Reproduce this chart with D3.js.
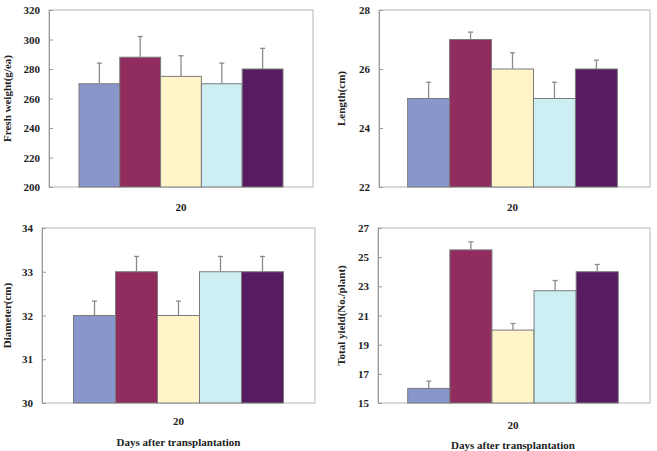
<!DOCTYPE html>
<html><head><meta charset="utf-8">
<script src="https://cdn.jsdelivr.net/npm/d3@7"></script>
<style>
html,body{margin:0;padding:0;background:#fff;}
svg text{font-family:"Liberation Serif","Times New Roman",serif;font-weight:bold;fill:#222;}
</style></head>
<body><svg id="c" width="657" height="451"></svg>
<script>
const category = ["20"];
const treatments = ["T1","T2","T3","T4","T5"];
const colors = ["#8896cc","#912d5e","#fff5c8","#cdeff3","#561b60"];

const freshWeight = [270, 288, 275, 270, 280];
const freshWeightErr = [14, 14, 14, 14, 14];
const lengthVals = [25, 27, 26, 25, 26];
const lengthErr = [0.55, 0.25, 0.55, 0.55, 0.3];
const diameter = [32, 33, 32, 33, 33];
const diameterErr = [0.33, 0.35, 0.33, 0.35, 0.35];
const totalYield = [16, 25.5, 20, 22.7, 24];
const totalYieldErr = [0.5, 0.55, 0.45, 0.7, 0.5];

const ticks1 = [200,220,240,260,280,300,320];
const ticks2 = [22,24,26,28];
const ticks3 = [30,31,32,33,34];
const ticks4 = [15,17,19,21,23,25,27];

const xTitle = "Days after transplantation";

const svg = d3.select("#c");

function panel(o){
  const g = svg.append("g");
  const y = d3.scaleLinear().domain([o.ticks[0], o.ticks[o.ticks.length-1]]).range([o.bottom, o.top]);
  const x0 = d3.scaleBand().domain(category).range([o.left, o.right]).paddingInner(0).paddingOuter(o.pad);
  const x1 = d3.scaleBand().domain(treatments).range([x0(category[0]) + o.shift, x0(category[0]) + x0.bandwidth() + o.shift]);
  g.append("rect").attr("x", o.left).attr("y", o.top).attr("width", o.right-o.left).attr("height", o.bottom-o.top)
    .attr("fill","none").attr("stroke","#b5b5b5").attr("stroke-width",1);
  const ya = d3.axisLeft(y).tickValues(o.ticks).tickSize(-4).tickPadding(9).tickFormat(d3.format("d"));
  const ag = g.append("g").attr("transform",`translate(${o.left},0)`).call(ya);
  ag.select(".domain").attr("stroke","#9a9a9a");
  ag.selectAll(".tick line").attr("stroke","#9a9a9a");
  ag.selectAll("text").attr("font-size", 11).style("font-weight","bold").attr("fill","#333").attr("font-family",null);
  treatments.forEach((t,i)=>{
    const v = o.values[i], e = o.errs[i];
    const bx = x1(t), bw = x1.bandwidth();
    g.append("rect").attr("x",bx).attr("y",y(v)).attr("width",bw).attr("height",y(o.ticks[0])-y(v))
      .attr("fill",colors[i]).attr("stroke","#7a7a7a").attr("stroke-width",1);
    const cx = bx + bw/2;
    g.append("line").attr("x1",cx).attr("x2",cx).attr("y1",y(v)).attr("y2",y(v+e))
      .attr("stroke","#8a8a8a").attr("stroke-width",1.3);
    g.append("line").attr("x1",cx-2.5).attr("x2",cx+2.5).attr("y1",y(v+e)).attr("y2",y(v+e))
      .attr("stroke","#8a8a8a").attr("stroke-width",1.3);
  });
  const cxl = x0(category[0]) + x0.bandwidth()/2 + o.shift;
  g.append("text").attr("x", cxl).attr("y", o.catY)
    .attr("text-anchor","middle").attr("font-size",11).text(category[0]);
  if (o.xTitleY) {
    g.append("text").attr("x", cxl).attr("y", o.xTitleY)
      .attr("text-anchor","middle").attr("font-size",11).text(xTitle);
  }
  g.append("text").attr("transform",`translate(${o.titleX},${(o.top+o.bottom)/2}) rotate(-90)`)
    .attr("text-anchor","middle").attr("font-size",11).text(o.title);
}

panel({left:49, right:313, top:10, bottom:187, ticks:ticks1, values:freshWeight, errs:freshWeightErr,
  title:"Fresh weight(g/ea)", titleX:11, catY:211, pad:0.147, shift:0});
panel({left:379, right:650, top:10, bottom:187, ticks:ticks2, values:lengthVals, errs:lengthErr,
  title:"Length(cm)", titleX:345, catY:211, pad:0.146, shift:-2});
panel({left:42, right:315, top:228, bottom:403, ticks:ticks3, values:diameter, errs:diameterErr,
  title:"Diameter(cm)", titleX:11, catY:425, xTitleY:446, pad:0.15, shift:0});
panel({left:378, right:650, top:228, bottom:403, ticks:ticks4, values:totalYield, errs:totalYieldErr,
  title:"Total yield(No./plant)", titleX:345, catY:429, xTitleY:449, pad:0.146, shift:-1});
</script></body></html>
